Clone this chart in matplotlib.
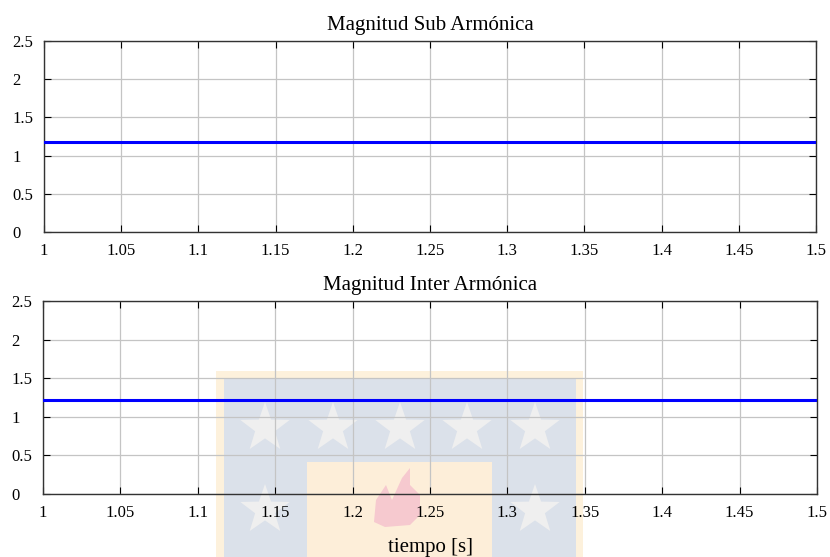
import numpy as np
import matplotlib
matplotlib.use("Agg")
import matplotlib.pyplot as plt
from matplotlib.patches import Rectangle, Polygon

plt.rcParams['font.family'] = ['Liberation Serif', 'DejaVu Serif']

# data
t = [1.0, 1.5]
sub_mag = [1.18, 1.18]
inter_mag = [1.22, 1.22]
x_ticks = [1, 1.05, 1.1, 1.15, 1.2, 1.25, 1.3, 1.35, 1.4, 1.45, 1.5]
x_labels = ['1', '1.05', '1.1', '1.15', '1.2', '1.25', '1.3', '1.35', '1.4', '1.45', '1.5']
y_ticks = [0, 0.5, 1, 1.5, 2, 2.5]
y_labels = ['0', '0.5', '1', '1.5', '2', '2.5']

fig = plt.figure(figsize=(8.3, 5.57), dpi=100)
W, H = 830, 557

def px_axes(l, t_, r, b):
    return fig.add_axes([l / W, 1 - b / H, (r - l) / W, (b - t_) / H])

ax1 = px_axes(44, 41, 816, 232)
ax2 = px_axes(43, 301, 817, 494)

for ax, y, title in [(ax1, sub_mag, 'Magnitud Sub Armónica'),
                     (ax2, inter_mag, 'Magnitud Inter Armónica')]:
    ax.set_facecolor('none')
    ax.plot(t, y, color='#0000ff', linewidth=2.2, zorder=3)
    ax.set_xlim(1, 1.5)
    ax.set_ylim(0, 2.5)
    ax.set_xticks(x_ticks)
    ax.set_xticklabels(x_labels)
    ax.set_yticks(y_ticks)
    ax.set_yticklabels(y_labels, ha='left')
    ax.grid(True, color='#c4c4c4', linewidth=0.9)
    ax.tick_params(direction='in', top=True, right=True, length=5,
                   labelsize=12, width=0.8)
    ax.tick_params(axis='x', pad=8)
    ax.tick_params(axis='y', pad=23)
    for s in ax.spines.values():
        s.set_linewidth(1.0)
        s.set_color('#333333')
    ax.set_title(title, fontsize=15, pad=8)

ax2.set_xlabel('tiempo [s]', fontsize=15, labelpad=12)

# faint watermark behind the lower plot
def fr(x0, y0, x1, y1, color):
    fig.patches.append(Rectangle((x0 / W, 1 - y1 / H), (x1 - x0) / W, (y1 - y0) / H,
                                 transform=fig.transFigure, color=color,
                                 zorder=-1, linewidth=0))

def star(cx, cy, r):
    pts = []
    for k in range(10):
        rr = r if k % 2 == 0 else r * 0.4
        a = np.pi / 2 + k * np.pi / 5
        pts.append(((cx + rr * np.cos(a)) / W, 1 - (cy - rr * np.sin(a)) / H))
    fig.patches.append(Polygon(pts, closed=True, transform=fig.transFigure,
                               color='#efefef', zorder=-1, linewidth=0))

fr(216, 371, 583, 557, '#fdf1dc')
fr(224, 378, 576, 557, '#dbe1ea')
fr(307, 462, 492, 557, '#fdeed9')
for sx, sy in [(265, 428), (333, 428), (400, 428), (467, 428), (535, 428),
               (265, 510), (535, 510)]:
    star(sx, sy, 26)
flame = [(374, 522), (376, 500), (386, 485), (392, 500), (402, 478),
         (410, 468), (410, 485), (420, 495), (420, 515), (410, 525), (385, 527)]
fig.patches.append(Polygon([(x / W, 1 - y / H) for x, y in flame], closed=True,
                           transform=fig.transFigure, color='#f6c9cf',
                           zorder=-1, linewidth=0))

plt.savefig('out.png', dpi=100)
